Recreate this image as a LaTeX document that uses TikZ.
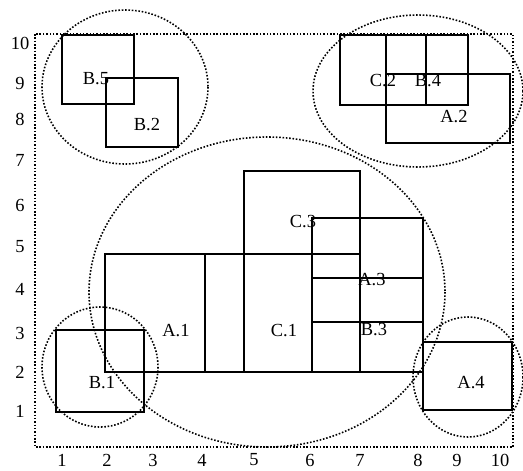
\documentclass[tikz,border=0pt]{standalone}
\usepackage{fontspec}
\setmainfont{Liberation Serif}
\begin{document}
\begin{tikzpicture}[x=0.02cm,y=-0.02cm,
  box/.style={draw, line width=1pt},
  zone/.style={draw, densely dotted, line width=0.9pt},
  lbl/.style={font=\fontsize{10.5}{12}\selectfont, inner sep=0pt}]
\useasboundingbox (0,0) rectangle (523,470);
% frame and zones
\draw[zone] (35,34) rectangle (513,447);
\draw[zone] (125,87) ellipse [x radius=83, y radius=77];
\draw[zone] (418,91) ellipse [x radius=105, y radius=76];
\draw[zone] (267,292) ellipse [x radius=178, y radius=155];
\draw[zone] (100,367) ellipse [x radius=58, y radius=60];
\draw[zone] (468,377) ellipse [x radius=55, y radius=60];
% rectangles
\draw[box] (62,35) rectangle (134,104);
\draw[box] (106,78) rectangle (178,147);
\draw[box] (340,35) rectangle (426,105);
\draw[box] (386,35) rectangle (468,105);
\draw[box] (386,74) rectangle (510,143);
\draw[box] (244,171) rectangle (360,372);
\draw[box] (105,254) rectangle (360,372);
\draw[box] (205,254) rectangle (244,372);
\draw[box] (312,218) rectangle (423,372);
\draw[box] (312,278) rectangle (423,322);
\draw[box] (56,330) rectangle (144,412);
\draw[box] (423,342) rectangle (512,410);
% labels
\node[lbl] (b5) at (96,79) {B.5};
\node[lbl] (b2) at (147,125) {B.2};
\node[lbl] (c2) at (383,81) {C.2};
\node[lbl] (b4) at (428,81) {B.4};
\node[lbl] (a2) at (454,117) {A.2};
\node[lbl] (c3) at (303,222) {C.3};
\node[lbl] (a3) at (372,280) {A.3};
\node[lbl] (b3) at (374,330) {B.3};
\node[lbl] (c1) at (284,331) {C.1};
\node[lbl] (a1) at (176,331) {A.1};
\node[lbl] (b1) at (102,383) {B.1};
\node[lbl] (a4) at (471,383) {A.4};
% axis numbers
\foreach \n/\py in {10/43,9/83,8/119,7/160,6/205,5/247,4/289,3/333,2/372,1/411}
  \node[lbl] (yl\n) at (20,\py) {\n};
\foreach \n/\px in {1/62,2/107,3/153,4/202,5/254,6/310,7/360,8/418,9/457,10/500}
  \node[lbl] (xl\n) at (\px,460) {\n};
\end{tikzpicture}
\end{document}
